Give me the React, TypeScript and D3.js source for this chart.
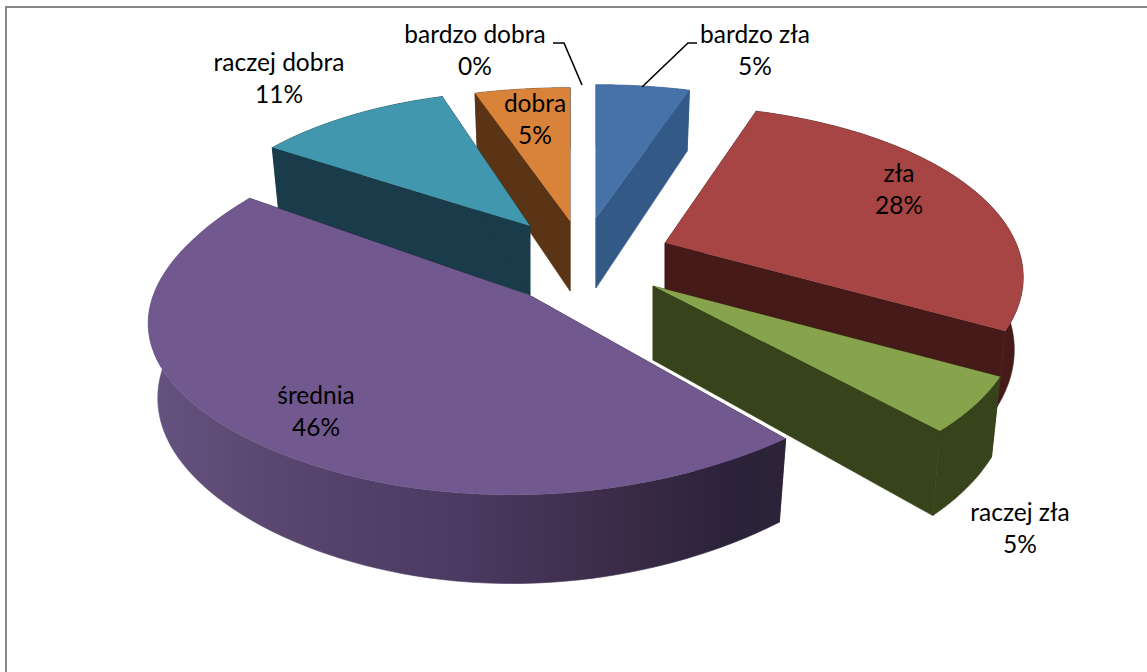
import React from "react";
import * as d3 from "d3";

// Data
const categories = ["bardzo zła", "zła", "raczej zła", "średnia", "raczej dobra", "dobra", "bardzo dobra"];
const values = [5, 28, 5, 46, 11, 5, 0];
const topColors = ["#4772a9", "#a64543", "#87a44c", "#71588f", "#4097ae", "#d9833a", "#d9833a"];
const wallColors = ["#335a86", "#451a18", "#37431b", "url(#purpleWall)", "#1a3c4a", "#5a3415", "#5a3415"];

// Layout of the exploded slices (screen apex, radii, perspective, shear)
const apexX = [596, 665, 653, 531, 530, 570, 582];
const apexY = [218, 243, 286, 296, 226, 221, 218];
const radiusX = [360, 351, 358, 378, 338, 366, 340];
const radiusY = [160, 165, 170, 188, 162, 160, 160];
const persY = [0.2, 0.2, 0.2, 0.055, 0.2, 0.2, 0.2];
const persX1 = [0.2, 0.2, 0.2, 0.125, 0.2, 0.2, 0.2];
const persX2 = [0, 0, 0, 0.1, 0, 0, 0];
const shear = [0, 0, 0, -0.1, 0, 0, 0];
const depths = [70, 70, 74, 73, 69, 70, 70];
const labelX = [755, 899, 1020, 316, 279, 535, 475];
const labelY = [43, 182, 521, 404, 71, 112, 43];
const paintOrder = [5, 0, 4, 1, 2, 3];

const W = 1147;
const H = 672;

const pieAngles = d3.pie<number>().sort(null).startAngle(0).endAngle(2 * Math.PI)(values);
const line = d3.line<[number, number]>();

function project(i: number, r: number, theta: number, bottom: boolean): [number, number] {
  const u = r * Math.sin(theta);
  const t = r * Math.cos(theta);
  const wx = 1 + persX1[i] * t + persX2[i] * t * t;
  const wy = 1 + persY[i] * t;
  const dy = (-radiusY[i] * t) / wy;
  const dx = (radiusX[i] * u) / wx + shear[i] * dy;
  if (!bottom) return [apexX[i] + dx, apexY[i] + dy];
  return [apexX[i] + dx * 0.975, apexY[i] + dy * 0.975 + depths[i] / (1 + 0.22 * t)];
}

function arcPoints(i: number, bottom: boolean, reverse = false): [number, number][] {
  const a = pieAngles[i];
  const n = 80;
  const pts = d3.range(n + 1).map((k) =>
    project(i, 1, a.startAngle + ((a.endAngle - a.startAngle) * k) / n, bottom)
  );
  return reverse ? pts.reverse() : pts;
}

function topPath(i: number): string {
  return line([project(i, 0, 0, false), ...arcPoints(i, false)]) + "Z";
}
function outerWall(i: number): string {
  return line([...arcPoints(i, false), ...arcPoints(i, true, true)]) + "Z";
}
function radialWall(i: number, theta: number): string {
  return (
    line([
      project(i, 0, 0, false),
      project(i, 1, theta, false),
      project(i, 1, theta, true),
      project(i, 0, 0, true),
    ]) + "Z"
  );
}

const labelFont = { fontFamily: "Lato, Carlito, sans-serif", fontSize: 24.5, fill: "#000" };

export default function App() {
  return (
    <svg
      width={W}
      height={H}
      viewBox={`0 0 ${W} ${H}`}
      style={{ position: "absolute", left: 0, top: 0, display: "block", background: "#fff" }}
    >
      <defs>
        <linearGradient id="purpleWall" gradientUnits="userSpaceOnUse" x1={150} x2={790} y1={0} y2={0}>
          <stop offset="0" stopColor="#66527f" />
          <stop offset="0.25" stopColor="#56446c" />
          <stop offset="0.5" stopColor="#4a3960" />
          <stop offset="0.72" stopColor="#3c2c49" />
          <stop offset="0.92" stopColor="#2a2238" />
          <stop offset="1" stopColor="#2c2339" />
        </linearGradient>
      </defs>
      <path d={`M6 ${H}V7H${W}`} fill="none" stroke="#868686" strokeWidth={2} />

      {paintOrder.map((i) => {
        const a = pieAngles[i];
        const solid = wallColors[i] === "url(#purpleWall)" ? "#2a2238" : wallColors[i];
        return (
          <g key={categories[i]}>
            <path d={radialWall(i, a.startAngle)} fill={solid} stroke={solid} strokeWidth={0.6} />
            <path d={radialWall(i, a.endAngle)} fill={solid} stroke={solid} strokeWidth={0.6} />
            <path d={outerWall(i)} fill={wallColors[i]} stroke={wallColors[i]} strokeWidth={0.6} />
            <path d={topPath(i)} fill={topColors[i]} />
          </g>
        );
      })}

      <path d="M642 87L688 43H697" fill="none" stroke="#000" strokeWidth={1.6} />
      <path d="M553 43H564L582 85" fill="none" stroke="#000" strokeWidth={1.6} />

      {categories.map((name, i) => (
        <text key={name} textAnchor="middle" {...labelFont}>
          <tspan x={labelX[i]} y={labelY[i]}>{name}</tspan>
          <tspan x={labelX[i]} y={labelY[i] + 32}>{values[i]}%</tspan>
        </text>
      ))}
    </svg>
  );
}
